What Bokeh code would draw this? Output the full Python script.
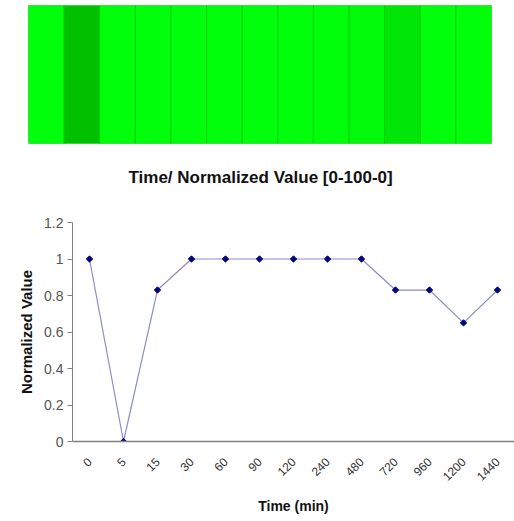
import math
from bokeh.plotting import figure
from bokeh.models import ColumnDataSource, FixedTicker, Title
from bokeh.embed import file_html
from bokeh.resources import INLINE

# ---- data ----
times = ["0", "5", "15", "30", "60", "90", "120", "240", "480", "720", "960", "1200", "1440"]
values = [1.0, 0.0, 0.83, 1.0, 1.0, 1.0, 1.0, 1.0, 1.0, 0.83, 0.83, 0.65, 0.83]
heat_colors = ["#00FF0A", "#00C000", "#00FF0A", "#00FF0A", "#00FF0A", "#00FF0A", "#00FF0A",
               "#00FF0A", "#00FF0A", "#00FA0A", "#00E608", "#00FF0A", "#00FF0A"]
y_ticks = [0, 0.2, 0.4, 0.6, 0.8, 1.0, 1.2]
y_tick_labels = ["0", "0.2", "0.4", "0.6", "0.8", "1", "1.2"]
title_text = "Time/ Normalized Value [0-100-0]"

FONT = "Liberation Sans"

# ---- heat strip (carries the chart title below it) ----
p1 = figure(width=514, height=210, x_range=times, y_range=(0, 1),
            output_backend="svg", toolbar_location=None,
            min_border_left=28, min_border_right=23, min_border_top=5, min_border_bottom=67)
src1 = ColumnDataSource(dict(t=times, c=heat_colors))
p1.rect(x="t", y=0.5, width=1, height=1, source=src1, fill_color="c",
        line_color="#00D000", line_width=1)
p1.axis.visible = False
p1.grid.visible = False
p1.outline_line_color = "#90F090"
p1.outline_line_width = 1
p1.title = Title(text=title_text, align="left",
                 text_font=FONT, text_font_size="17px", text_font_style="bold",
                 text_color="#111111", offset=100, standoff=45)
p1.title_location = "below"

# ---- line chart ----
p2 = figure(width=514, height=310, x_range=times, y_range=(0, 1.2),
            output_backend="svg", toolbar_location=None,
            min_border_left=72, min_border_right=0, min_border_top=12, min_border_bottom=79)
src2 = ColumnDataSource(dict(t=times, v=values))
p2.line(x="t", y="v", source=src2, line_color="#8C8CC8", line_width=1.2)
p2.scatter(x="t", y="v", source=src2, marker="square", size=4.5,
           fill_color="#000080", line_color="#000080", angle=math.pi / 4)

p2.grid.visible = False
p2.outline_line_color = None
p2.background_fill_color = "white"

p2.yaxis.ticker = FixedTicker(ticks=y_ticks)
p2.yaxis.major_label_overrides = {t: l for t, l in zip(y_ticks, y_tick_labels)}
p2.yaxis.minor_tick_line_color = None
p2.yaxis.major_tick_out = 5
p2.yaxis.major_tick_in = 0
p2.yaxis.axis_line_color = "#808080"
p2.yaxis.major_tick_line_color = "#808080"
p2.yaxis.major_label_text_font = FONT
p2.yaxis.major_label_text_font_size = "14px"
p2.yaxis.major_label_text_color = "#555555"
p2.yaxis.major_label_standoff = 4
p2.yaxis.axis_label = "Normalized Value"
p2.yaxis.axis_label_text_font = FONT
p2.yaxis.axis_label_text_font_size = "15px"
p2.yaxis.axis_label_text_font_style = "bold"
p2.yaxis.axis_label_text_color = "#111111"
p2.yaxis.axis_label_standoff = 6

p2.xaxis.axis_line_color = "#808080"
p2.xaxis.axis_line_width = 1.5
p2.xaxis.major_tick_line_color = None
p2.xaxis.major_label_orientation = math.pi / 4
p2.xaxis.major_label_text_font = FONT
p2.xaxis.major_label_text_font_size = "12px"
p2.xaxis.major_label_text_color = "#333333"
p2.xaxis.major_label_standoff = 12
p2.xaxis.axis_label = "Time (min)"
p2.xaxis.axis_label_text_font = FONT
p2.xaxis.axis_label_text_font_size = "14px"
p2.xaxis.axis_label_text_font_style = "bold"
p2.xaxis.axis_label_text_color = "#111111"
p2.xaxis.axis_label_standoff = 10

open("out.html", "w").write(file_html([p1, p2], INLINE))
